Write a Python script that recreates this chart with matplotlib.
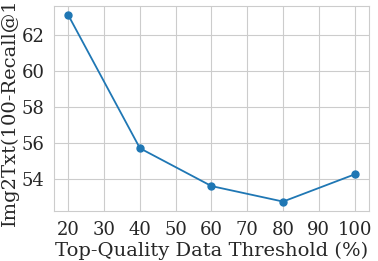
import matplotlib
matplotlib.use("Agg")
import matplotlib.pyplot as plt
import seaborn as sns

# threshold vs retrieval error
thresholds = [20, 40, 60, 80, 100]
img2txt_err = [63.08, 55.7, 53.6, 52.74, 54.25]
xticks = [20, 30, 40, 50, 60, 70, 80, 90, 100]

sns.set_style("whitegrid")
plt.rcParams['font.family'] = ['DejaVu Serif']

fig, ax = plt.subplots(figsize=(3.78, 2.61), dpi=100)
fig.subplots_adjust(left=0.143, right=0.976, top=0.977, bottom=0.192)

ax.plot(thresholds, img2txt_err, marker='o', color='#1f77b4', linewidth=1.3, markersize=5)
ax.set_xticks(xticks)
ax.set_yticks([54, 56, 58, 60, 62])
ax.tick_params(labelsize=13, colors='#262626')
ax.set_xlabel('Top-Quality Data Threshold (%)', fontsize=14, color='#262626', labelpad=2)
ax.set_ylabel('Img2Txt(100-Recall@1)', fontsize=14, color='#262626', labelpad=2)

fig.savefig('out.png', dpi=100)
